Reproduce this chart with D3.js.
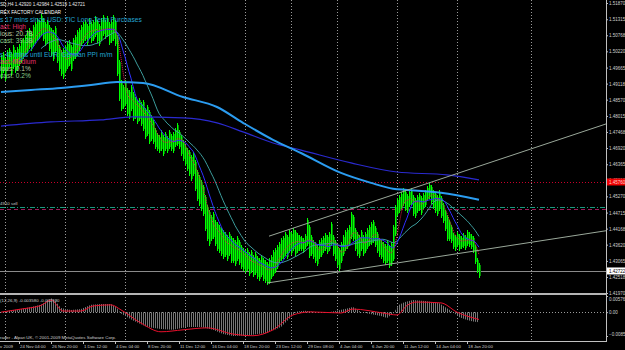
<!DOCTYPE html>
<html>
<head>
<meta charset="utf-8">
<script src="https://cdn.jsdelivr.net/npm/d3@7"></script>
<style>
body { margin: 0; background: #000; }
svg { display: block; font-family: Arial, "Liberation Sans", sans-serif; }
</style>
</head>
<body>
<svg id="chart" width="625" height="350"></svg>
<script>
// EURUSD H4 bars, one entry per bar (oldest first)
var highs = [
  1.5009,1.5020,1.4999,1.5027,1.5034,1.5020,1.5044,1.5027,1.5037,1.5047,
  1.5061,1.5068,1.5078,1.5095,1.5102,1.5088,1.5112,1.5122,1.5136,1.5129,
  1.5149,1.5136,1.5122,1.5129,1.5112,1.5102,1.5095,1.5109,1.5068,1.5044,
  1.5027,1.5034,1.5044,1.5054,1.5061,1.5044,1.5068,1.5078,1.5095,1.5102,
  1.5112,1.5122,1.5129,1.5115,1.5136,1.5122,1.5129,1.5143,1.5129,1.5115,
  1.5136,1.5146,1.5129,1.5143,1.5122,1.5129,1.5146,1.5129,1.5078,1.4992,
  1.4924,1.4907,1.4924,1.4897,1.4890,1.4907,1.4883,1.4866,1.4856,1.4863,
  1.4849,1.4856,1.4829,1.4839,1.4822,1.4805,1.4788,1.4761,1.4744,1.4737,
  1.4754,1.4737,1.4747,1.4734,1.4754,1.4740,1.4747,1.4761,1.4778,1.4754,
  1.4737,1.4720,1.4702,1.4692,1.4685,1.4668,1.4678,1.4651,1.4617,1.4600,
  1.4583,1.4566,1.4532,1.4498,1.4481,1.4464,1.4474,1.4447,1.4440,1.4430,
  1.4420,1.4413,1.4406,1.4396,1.4406,1.4393,1.4386,1.4379,1.4393,1.4379,
  1.4362,1.4351,1.4344,1.4351,1.4337,1.4344,1.4327,1.4337,1.4324,1.4317,
  1.4327,1.4317,1.4310,1.4303,1.4317,1.4327,1.4344,1.4351,1.4362,1.4372,
  1.4386,1.4393,1.4406,1.4396,1.4413,1.4406,1.4420,1.4413,1.4403,1.4396,
  1.4393,1.4386,1.4400,1.4454,1.4430,1.4396,1.4379,1.4372,1.4362,1.4379,
  1.4386,1.4393,1.4403,1.4396,1.4406,1.4440,1.4396,1.4379,1.4362,1.4351,
  1.4372,1.4396,1.4413,1.4420,1.4430,1.4474,1.4464,1.4420,1.4406,1.4396,
  1.4413,1.4396,1.4406,1.4420,1.4430,1.4440,1.4447,1.4427,1.4406,1.4386,
  1.4379,1.4372,1.4365,1.4379,1.4362,1.4372,1.4430,1.4498,1.4522,1.4532,
  1.4542,1.4556,1.4549,1.4535,1.4549,1.4556,1.4532,1.4522,1.4532,1.4539,
  1.4529,1.4539,1.4549,1.4563,1.4573,1.4566,1.4549,1.4542,1.4532,1.4549,
  1.4529,1.4505,1.4481,1.4464,1.4447,1.4430,1.4403,1.4396,1.4406,1.4400,
  1.4393,1.4403,1.4396,1.4413,1.4406,1.4400,1.4393,1.4362,1.4317,1.4298
];
var lows = [
  1.4931,1.4951,1.4924,1.4958,1.4972,1.4941,1.4965,1.4951,1.4958,1.4975,
  1.4985,1.4999,1.5009,1.5020,1.5034,1.5027,1.5044,1.5054,1.5061,1.5068,
  1.5078,1.5061,1.5044,1.5054,1.5027,1.5009,1.4992,1.5020,1.4985,1.4958,
  1.4941,1.4931,1.4951,1.4965,1.4975,1.4958,1.4992,1.4999,1.5009,1.5027,
  1.5044,1.5054,1.5061,1.5047,1.5068,1.5054,1.5061,1.5074,1.5054,1.5044,
  1.5061,1.5078,1.5068,1.5074,1.5047,1.5054,1.5061,1.5044,1.4941,1.4856,
  1.4822,1.4829,1.4839,1.4805,1.4795,1.4822,1.4788,1.4795,1.4778,1.4788,
  1.4771,1.4754,1.4727,1.4737,1.4709,1.4720,1.4709,1.4692,1.4685,1.4678,
  1.4685,1.4668,1.4685,1.4678,1.4692,1.4685,1.4678,1.4699,1.4702,1.4692,
  1.4668,1.4651,1.4634,1.4617,1.4600,1.4583,1.4600,1.4549,1.4515,1.4498,
  1.4481,1.4464,1.4413,1.4379,1.4362,1.4379,1.4386,1.4362,1.4344,1.4337,
  1.4327,1.4317,1.4324,1.4310,1.4327,1.4303,1.4303,1.4293,1.4310,1.4296,
  1.4283,1.4276,1.4269,1.4276,1.4259,1.4269,1.4256,1.4262,1.4249,1.4242,
  1.4256,1.4242,1.4235,1.4228,1.4232,1.4249,1.4259,1.4269,1.4283,1.4303,
  1.4310,1.4317,1.4327,1.4317,1.4337,1.4330,1.4344,1.4327,1.4337,1.4344,
  1.4344,1.4337,1.4351,1.4362,1.4320,1.4327,1.4317,1.4303,1.4293,1.4317,
  1.4324,1.4337,1.4344,1.4334,1.4344,1.4362,1.4327,1.4310,1.4290,1.4276,
  1.4303,1.4327,1.4344,1.4351,1.4362,1.4386,1.4379,1.4344,1.4327,1.4320,
  1.4344,1.4327,1.4337,1.4351,1.4362,1.4365,1.4372,1.4358,1.4337,1.4324,
  1.4317,1.4303,1.4296,1.4303,1.4286,1.4293,1.4310,1.4396,1.4464,1.4474,
  1.4488,1.4498,1.4481,1.4474,1.4494,1.4501,1.4464,1.4457,1.4474,1.4481,
  1.4467,1.4488,1.4494,1.4515,1.4522,1.4505,1.4488,1.4474,1.4464,1.4481,
  1.4457,1.4440,1.4413,1.4379,1.4379,1.4372,1.4351,1.4344,1.4358,1.4344,
  1.4351,1.4355,1.4348,1.4362,1.4358,1.4351,1.4337,1.4300,1.4269,1.4252
];

// slow moving averages, read at a few bars
var slowIdx = [0, 15, 30, 45, 58, 71, 91, 108, 121, 136, 150, 170, 185, 196, 203, 220, 239];
var slowVal = [1.4883,1.4890,1.4897,1.4907,1.4917,1.4914,1.4866,1.4832,1.4778,1.4720,1.4675,1.4607,1.4573,1.4553,1.4549,1.4539,1.4515];
var midIdx = [0, 25, 50, 66, 91, 108, 121, 136, 150, 175, 198, 223, 239];
var midVal = [1.4767,1.4781,1.4788,1.4798,1.4795,1.4778,1.4747,1.4709,1.4685,1.4641,1.4610,1.4600,1.4583];

// MACD(12,26,9)
var histIdx = [0,3,10,15,20,25,27,30,35,40,45,50,55,58,60,66,73,80,86,93,100,106,111,116,123,133,140,145,148,152,157,162,167,172,176,180,184,190,193,196,199,202,206,212,219,222,226,229,233,236,239];
var histVal = [0.0000,0.0004,0.0011,0.0018,0.0026,0.0050,0.0042,0.0015,0.0008,0.0011,0.0026,0.0029,0.0029,0.0015,-0.0005,-0.0030,-0.0053,-0.0060,-0.0063,-0.0053,-0.0053,-0.0063,-0.0078,-0.0085,-0.0083,-0.0074,-0.0053,-0.0017,0.0002,0.0005,0.0001,-0.0003,0.0004,0.0011,0.0018,0.0001,-0.0006,-0.0014,-0.0021,-0.0006,0.0026,0.0036,0.0043,0.0040,0.0033,0.0018,0.0001,-0.0017,-0.0028,-0.0033,-0.0036];
var sigIdx = [0,10,20,25,31,40,46,55,60,70,80,91,103,116,126,136,146,155,170,176,191,198,203,208,220,228,239];
var sigVal = [0.0000,0.0011,0.0024,0.0043,0.0004,0.0004,0.0022,0.0026,0.0008,-0.0039,-0.0070,-0.0063,-0.0056,-0.0078,-0.0084,-0.0063,-0.0010,0.0001,-0.0003,0.0011,-0.0003,-0.0010,0.0024,0.0036,0.0033,0.0000,-0.0026];

// axes
var priceTicks = [1.51870,1.51315,1.50768,1.50220,1.49665,1.49118,1.48570,1.48015,1.47468,1.46920,1.46365,1.45818,1.45270,1.44715,1.44168,1.43620,1.43065,1.42518,1.41970];
var macdTicks = [0.00576, 0, -0.0085];
var timeIdx = [9, 25, 41, 57, 73, 89, 105, 121, 137, 153, 169, 185, 201, 217, 233];
var timeLabels = ['24 Nov 04:00','26 Nov 20:00','1 Dec 12:00','4 Dec 04:00','8 Dec 20:00','11 Dec 12:00','16 Dec 04:00','18 Dec 20:00','23 Dec 12:00','29 Dec 08:00','4 Jan 04:00','6 Jan 20:00','11 Jan 12:00','14 Jan 04:00','18 Jan 20:00'];
var weekIdx = [2, 32, 62, 92, 122, 145, 168, 198, 228, 265];

// objects on the chart
var bidPrice = 1.42722;
var alertPrice = 1.45760;
var sellPrice = 1.44910;
var sellPrice2 = 1.44840;
var upperLine = [[134, 1.4391], [302, 1.4773]];
var lowerLine = [[133, 1.4231], [302, 1.4409]];

var svg = d3.select('#chart');
var x = d3.scaleLinear().domain([0, 239]).range([1, 479]);
var y = d3.scaleLinear().domain([1.41970, 1.51870]).range([293, 3]);
var ym = d3.scaleLinear().domain([-0.0085, 0.00576]).range([336, 296]);

svg.append('rect').attr('width', 625).attr('height', 350).attr('fill', '#000');

// weekly grid
svg.append('g').selectAll('line')
  .data(weekIdx)
  .enter().append('line')
  .attr('x1', function(d) { return Math.round(x(d)) + 0.5; })
  .attr('x2', function(d) { return Math.round(x(d)) + 0.5; })
  .attr('y1', 0).attr('y2', 341)
  .attr('stroke', '#9a9a9a').attr('stroke-dasharray', '1,2')
  .attr('shape-rendering', 'crispEdges');

// horizontal levels
function level(p, color, dash) {
  svg.append('line')
    .attr('x1', 0).attr('x2', 606)
    .attr('y1', Math.round(y(p)) + 0.5).attr('y2', Math.round(y(p)) + 0.5)
    .attr('stroke', color).attr('stroke-dasharray', dash)
    .attr('shape-rendering', 'crispEdges');
}
level(alertPrice, '#c8002a', '1,2');
level(sellPrice, '#1a9a80', '5,2,1,2');
level(sellPrice2, '#9a1a5a', '4,3');
level(bidPrice, '#8a8a8a', null);

// bars: bright stem plus a darker shade column
var bars = svg.append('g').attr('shape-rendering', 'crispEdges');
bars.selectAll('rect')
  .data(highs)
  .enter().append('rect')
  .attr('x', function(d, i) { return x(i); })
  .attr('width', 2)
  .attr('y', function(d) { return Math.round(y(d)) + 2; })
  .attr('height', function(d, i) { return Math.max(1, Math.round(y(lows[i])) - Math.round(y(d)) - 3); })
  .attr('fill', '#008c00');
bars.selectAll('line')
  .data(highs)
  .enter().append('line')
  .attr('x1', function(d, i) { return x(i) + 0.5; })
  .attr('x2', function(d, i) { return x(i) + 0.5; })
  .attr('y1', function(d) { return Math.round(y(d)); })
  .attr('y2', function(d, i) { return Math.round(y(lows[i])) + 1; })
  .attr('stroke', '#00ff00').attr('stroke-width', 1);

// fast averages on median price
function sma(period) {
  var out = [];
  for (var i = period - 1; i < highs.length; i++) {
    var s = 0;
    for (var j = i - period + 1; j <= i; j++) s += (highs[j] + lows[j]) / 2;
    out.push([i, s / period]);
  }
  return out;
}
var line = d3.line()
  .x(function(d) { return x(d[0]); })
  .y(function(d) { return y(d[1]); });

svg.append('path').attr('d', line(sma(21)))
  .attr('fill', 'none').attr('stroke', '#3c9c9c');
svg.append('path').attr('d', line(sma(10)))
  .attr('fill', 'none').attr('stroke', '#3030ff');
svg.append('path').attr('d', line(sma(5)))
  .attr('fill', 'none').attr('stroke', '#e0204a').attr('stroke-dasharray', '1,1');

var smooth = d3.line()
  .x(function(d) { return x(d[0]); })
  .y(function(d) { return y(d[1]); })
  .curve(d3.curveMonotoneX);
svg.append('path').attr('d', smooth(d3.zip(midIdx, midVal)))
  .attr('fill', 'none').attr('stroke', '#2a2ad0').attr('stroke-width', 1.2);
svg.append('path').attr('d', smooth(d3.zip(slowIdx, slowVal)))
  .attr('fill', 'none').attr('stroke', '#2b9cf0').attr('stroke-width', 2);

// trend lines
[upperLine, lowerLine].forEach(function(t) {
  var x1 = x(t[0][0]), y1 = y(t[0][1]), x2 = x(t[1][0]), y2 = y(t[1][1]);
  var k = (y2 - y1) / (x2 - x1);
  svg.append('line')
    .attr('x1', x1).attr('y1', y1)
    .attr('x2', 606).attr('y2', y1 + k * (606 - x1))
    .attr('stroke', '#9aa89a');
});

// separator and MACD window
svg.append('rect').attr('x', 0).attr('y', 293).attr('width', 607).attr('height', 2).attr('fill', '#b4b4b4');
svg.append('line')
  .attr('x1', 0).attr('x2', 606)
  .attr('y1', Math.round(ym(0)) + 0.5).attr('y2', Math.round(ym(0)) + 0.5)
  .attr('stroke', '#9a9a9a').attr('stroke-dasharray', '1,2')
  .attr('shape-rendering', 'crispEdges');

var defs = svg.append('defs');
var pat = defs.append('pattern').attr('id', 'hatch')
  .attr('patternUnits', 'userSpaceOnUse').attr('width', 2).attr('height', 4);
pat.append('rect').attr('x', 1).attr('width', 1).attr('height', 4).attr('fill', '#767676');

var area = d3.area()
  .x(function(d) { return x(d[0]); })
  .y0(ym(0))
  .y1(function(d) { return ym(d[1]); });
svg.append('path').attr('d', area(d3.zip(histIdx, histVal)))
  .attr('fill', 'url(#hatch)');

var sigLine = d3.line()
  .x(function(d) { return x(d[0]); })
  .y(function(d) { return ym(d[1]); })
  .curve(d3.curveMonotoneX);
svg.append('path').attr('d', sigLine(d3.zip(sigIdx, sigVal)))
  .attr('fill', 'none').attr('stroke', '#e8102c');

// frame
svg.append('line').attr('x1', 606.5).attr('x2', 606.5).attr('y1', 0).attr('y2', 341).attr('stroke', '#c0c0c0');
svg.append('line').attr('x1', 0).attr('x2', 607).attr('y1', 341.5).attr('y2', 341.5).attr('stroke', '#c0c0c0');

function styleAxis(g) {
  g.select('.domain').remove();
  g.selectAll('line').attr('stroke', '#c0c0c0');
  g.selectAll('text').attr('fill', '#d0d0d0')
    .style('font-size', '4.5px')
    .style('font-family', 'Arial, "Liberation Sans", sans-serif');
}

// price axis
svg.append('g')
  .attr('transform', 'translate(606,0)')
  .call(d3.axisRight(y).tickValues(priceTicks).tickSize(2).tickPadding(1).tickFormat(d3.format('.5f')))
  .call(styleAxis);

// MACD axis
svg.append('g')
  .attr('transform', 'translate(606,0)')
  .call(d3.axisRight(ym).tickValues(macdTicks).tickSize(2).tickPadding(1)
    .tickFormat(function(d) { return d === 0 ? '0.00' : d3.format('.6f')(d); }))
  .call(styleAxis)
  .selectAll('.tick text')
  .attr('dy', function(d) { return d > 0 ? '0.9em' : (d < 0 ? '-0.1em' : '0.32em'); });

// price boxes
function box(p, fill, color) {
  var g = svg.append('g').attr('transform', 'translate(607,' + y(p) + ')');
  g.append('rect').attr('x', 0).attr('y', -3.5).attr('width', 18).attr('height', 7).attr('fill', fill);
  g.append('text').attr('x', 2).attr('dy', '0.35em').attr('fill', color)
    .style('font-size', '4.5px').text(d3.format('.5f')(p));
}
box(alertPrice, '#f00000', '#ffd0d0');
box(bidPrice, '#ffffff', '#000000');

// time axis
var tAxis = svg.append('g');
tAxis.selectAll('line')
  .data(timeIdx)
  .enter().append('line')
  .attr('x1', function(d) { return x(d) + 0.5; })
  .attr('x2', function(d) { return x(d) + 0.5; })
  .attr('y1', 341).attr('y2', 344)
  .attr('stroke', '#c0c0c0');
tAxis.selectAll('text')
  .data(timeLabels)
  .enter().append('text')
  .attr('x', function(d, i) { return x(timeIdx[i]) + 1; })
  .attr('y', 348)
  .attr('fill', '#d0d0d0')
  .style('font-size', '4.3px')
  .text(function(d) { return d; });
svg.append('text').attr('x', 13).attr('y', 348).attr('text-anchor', 'end')
  .attr('fill', '#d0d0d0').style('font-size', '4.3px').text('23 Nov 2009');

// texts
var notes = [
  {t: 'SD,H4  1.42920 1.42984 1.42519 1.42721', y: 6, c: '#e8e8e8', s: 4.6},
  {t: 'REX FACTORY CALENDAR', y: 14, c: '#ffffff', s: 4.8},
  {t: 's 17 mins since USD: TIC Long-Term Purchases', y: 22, c: '#22a6d4', s: 6.6},
  {t: 'act: High', y: 29, c: '#e0306a', s: 6.6},
  {t: 'ious: 20.7B', y: 36, c: '#b8c8a0', s: 6.6},
  {t: 'cast: 39.3B', y: 43, c: '#88cc88', s: 6.6},
  {t: 's 42 mins until EUR: German PPI m/m', y: 57, c: '#22a6d4', s: 6.6},
  {t: 'act: Medium', y: 64, c: '#e0306a', s: 6.6},
  {t: 'ious: 0.1%', y: 71, c: '#b8c8a0', s: 6.6},
  {t: 'cast: 0.2%', y: 78, c: '#88cc88', s: 6.6},
  {t: '4910 sell', y: 205, c: '#c8c8c8', s: 4.4},
  {t: '(12,26,9) -0.003580 -0.002590', y: 302, c: '#d0d0d0', s: 4.4},
  {t: 'rader - Alpari UK, \u00a9 2001-2009 MetaQuotes Software Corp.', y: 339, c: '#d0d0d0', s: 4.4}
];
svg.append('g').selectAll('text')
  .data(notes)
  .enter().append('text')
  .attr('x', 0)
  .attr('y', function(d) { return d.y; })
  .attr('fill', function(d) { return d.c; })
  .style('font-size', function(d) { return d.s + 'px'; })
  .text(function(d) { return d.t; });
</script>
</body>
</html>
